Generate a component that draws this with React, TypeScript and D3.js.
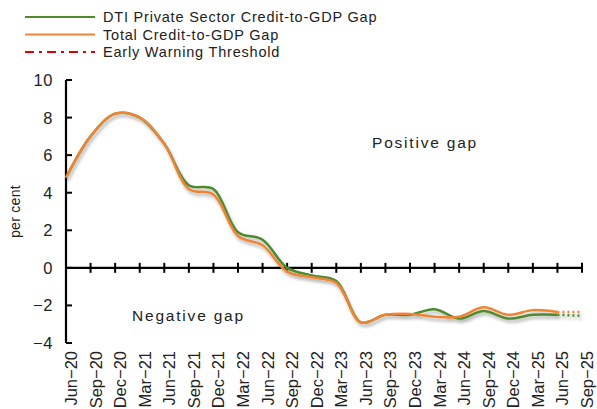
import React from "react";
import * as d3 from "d3";

const quarters = ["Jun-20","Sep-20","Dec-20","Mar-21","Jun-21","Sep-21","Dec-21","Mar-22","Jun-22","Sep-22","Dec-22","Mar-23","Jun-23","Sep-23","Dec-23","Mar-24","Jun-24","Sep-24","Dec-24","Mar-25","Jun-25","Sep-25"];
const dtiGap = [4.8,7.0,8.2,8.0,6.6,4.4,4.2,1.9,1.5,0.0,-0.4,-0.7,-2.9,-2.5,-2.5,-2.2,-2.7,-2.3,-2.7,-2.5,-2.5];
const totalGap = [4.8,7.0,8.2,8.0,6.6,4.2,3.9,1.7,1.2,-0.2,-0.5,-0.8,-2.9,-2.5,-2.45,-2.6,-2.6,-2.1,-2.5,-2.25,-2.35];
const dtiProjection = [-2.5,-2.55];
const totalProjection = [-2.35,-2.35];
const threshold = 2.5;
const yTicks = [-4,-2,0,2,4,6,8,10];
const legendItems = ["DTI Private Sector Credit-to-GDP Gap","Total Credit-to-GDP Gap","Early Warning Threshold"];

const GREEN = "#4f8a2f";
const ORANGE = "#f08436";
const RED = "#e00000";
const FONT = "'Liberation Sans', Arial, sans-serif";

export default function App() {
  const W = 597, H = 409;
  const x = d3.scalePoint<string>().domain(quarters).range([66, 582]);
  const y = d3.scaleLinear().domain([-4, 10]).range([343, 80]);
  const line = d3.line<[string, number]>().x(d => x(d[0])!).y(d => y(d[1])).curve(d3.curveCatmullRom.alpha(0.5));
  const dtiPts: [string, number][] = dtiGap.map((v, i) => [quarters[i], v]);
  const totPts: [string, number][] = totalGap.map((v, i) => [quarters[i], v]);
  const dtiProj: [string, number][] = dtiProjection.map((v, i) => [quarters[20 + i], v]);
  const totProj: [string, number][] = totalProjection.map((v, i) => [quarters[20 + i], v]);
  const straight = d3.line<[string, number]>().x(d => x(d[0])!).y(d => y(d[1]));
  const y0 = y(0);
  const legendColors = [GREEN, ORANGE, RED];
  return (
    <svg width={W} height={H} style={{ position: "absolute", left: 0, top: 0, fontFamily: FONT }}>
      <defs>
        <filter id="sh" x="-10%" y="-10%" width="120%" height="130%">
          <feDropShadow dx="1.5" dy="3" stdDeviation="1.8" floodColor="#000" floodOpacity="0.28" />
        </filter>
      </defs>
      <rect width={W} height={H} fill="#fff" />
      {/* legend */}
      {legendItems.map((t, i) => (
        <g key={t} transform={`translate(0,${17 + i * 17.5})`}>
          <line x1={25} x2={95} y1={0} y2={0} stroke={legendColors[i]} strokeWidth={2.2}
            strokeDasharray={i === 2 ? "9,5,3,5" : undefined} />
          <text x={103} y={0} dy="0.35em" fontSize={14.5} letterSpacing={0.8} fill="#222">{t}</text>
        </g>
      ))}
      {/* threshold */}
      <line x1={66} x2={582} y1={y(threshold)} y2={y(threshold)} stroke={RED} strokeWidth={2}
        strokeDasharray="9,8,3,8" filter="url(#sh)" />
      {/* y axis */}
      <line x1={66} x2={66} y1={y(10)} y2={y(-4)} stroke="#000" strokeWidth={2.2} />
      {yTicks.map(t => (
        <g key={t}>
          <line x1={66} x2={72} y1={y(t)} y2={y(t)} stroke="#000" strokeWidth={2} />
          <text x={53} y={y(t)} dy="0.36em" textAnchor="end" fontSize={16.5} letterSpacing={0.6} fill="#222">{t < 0 ? `\u2212${-t}` : t}</text>
        </g>
      ))}
      <text transform={`translate(20,${y(3)}) rotate(-90)`} textAnchor="middle" fontSize={14} letterSpacing={0.3} fill="#222">per cent</text>
      {/* x axis */}
      <line x1={66} x2={582} y1={y0} y2={y0} stroke="#000" strokeWidth={2.2} />
      {quarters.map((q, i) => (
        <g key={q}>
          {i > 0 && <line x1={x(q)} x2={x(q)} y1={y0 - 5} y2={y0 + 5} stroke="#000" strokeWidth={2} />}
          <text transform={`translate(${x(q)! + 11},351) rotate(-90)`} textAnchor="end" fontSize={16.5} fill="#222">{q.replace("-", "\u2212")}</text>
        </g>
      ))}
      {/* series */}
      <g filter="url(#sh)">
        <path d={line(dtiPts)!} fill="none" stroke={GREEN} strokeWidth={2.5} />
        <path d={line(totPts)!} fill="none" stroke={ORANGE} strokeWidth={2.5} />
        <path d={straight(dtiProj)!} fill="none" stroke={GREEN} strokeWidth={2.5} strokeDasharray="2,3" />
        <path d={straight(totProj)!} fill="none" stroke={ORANGE} strokeWidth={2.5} strokeDasharray="2,3" />
      </g>
      <text x={372} y={143} dy="0.35em" fontSize={15.5} letterSpacing={1.8} fill="#222">Positive gap</text>
      <text x={132} y={316} dy="0.35em" fontSize={15.5} letterSpacing={1.8} fill="#222">Negative gap</text>
    </svg>
  );
}
